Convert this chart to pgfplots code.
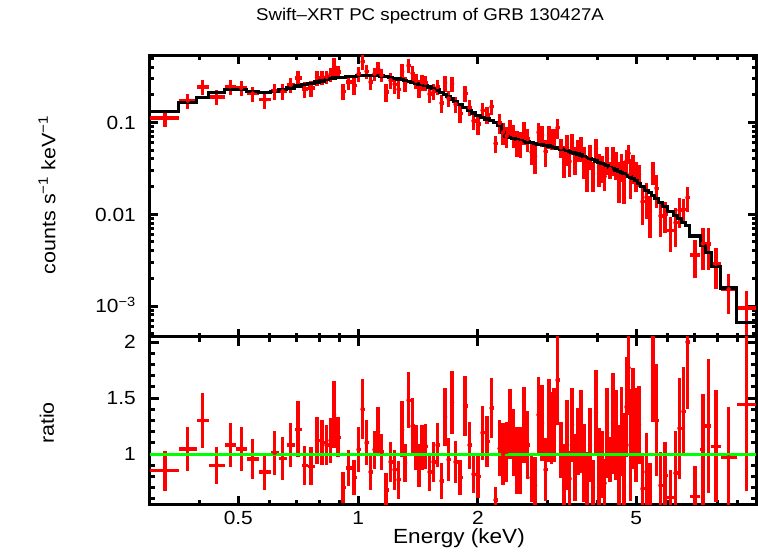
\documentclass[border=0pt]{standalone}
\usepackage{fontspec}
\setmainfont[FakeStretch=1.1]{Liberation Sans}
\usepackage{pgfplots}
\pgfplotsset{compat=1.18}
\usepackage{pgfplotstable}
\definecolor{xred}{RGB}{255,0,0}
\definecolor{xgreen}{RGB}{0,255,0}

% bin centre c, half width w, data y, error ey, ratio r, ratio error er
\pgfplotstableread{
c w y ey r er
0.327 0.027 0.1122 0.0238 0.85 0.18
0.3734 0.0194 0.1735 0.0332 1.045 0.20
0.4069 0.0141 0.2431 0.0458 1.30 0.245
0.4415 0.0205 0.189 0.0347 0.90 0.165
0.4772 0.0152 0.2473 0.0458 1.08 0.20
0.5085 0.0162 0.2393 0.0458 1.045 0.20
0.5435 0.0189 0.2063 0.0378 0.955 0.175
0.5825 0.0202 0.1764 0.0347 0.84 0.165
0.6171 0.0144 0.2212 0.0438 1.01 0.20
0.6464 0.0150 0.2179 0.0431 0.96 0.19
0.677 0.0157 0.2570 0.0476 1.08 0.20
0.7069 0.0142 0.305 0.0625 1.22 0.25
0.7339 0.0128 0.2322 0.0452 0.90 0.175
0.7621 0.0155 0.2367 0.0452 0.89 0.17
0.7889 0.0113 0.3091 0.058 1.12 0.21
0.812 0.0118 0.3113 0.0566 1.10 0.20
0.8335 0.0098 0.3154 0.0526 1.08 0.18
0.853 0.0098 0.336 0.060 1.12 0.20
0.8704 0.0076 0.4118 0.0915 1.35 0.30
0.8909 0.0129 0.3554 0.0556 1.15 0.18
0.917 0.0133 0.2177 0.0435 0.70 0.14
0.9467 0.0165 0.2756 0.0504 0.875 0.16
0.9772 0.0141 0.2528 0.0512 0.79 0.16
1.003 0.0117 0.338 0.065 1.04 0.20
1.0265 0.0119 0.4578 0.0883 1.40 0.27
1.0505 0.0122 0.3608 0.0656 1.10 0.20
1.0751 0.0124 0.2755 0.0525 0.84 0.16
1.1003 0.0128 0.3401 0.0556 1.04 0.17
1.1227 0.0097 0.39 0.0715 1.20 0.22
1.1457 0.0133 0.3274 0.0514 1.02 0.16
1.176 0.017 0.2149 0.0474 0.68 0.15
1.2069 0.014 0.2883 0.0558 0.93 0.18
1.2352 0.0143 0.2614 0.0547 0.86 0.18
1.2642 0.0147 0.2295 0.0507 0.77 0.17
1.2901 0.0112 0.3562 0.073 1.22 0.25
1.3127 0.0115 0.264 0.0488 0.92 0.17
1.3397 0.0155 0.4159 0.0703 1.48 0.25
1.371 0.0159 0.3438 0.0688 1.25 0.25
1.3989 0.0121 0.2841 0.0536 1.06 0.20
1.4233 0.0123 0.2367 0.05 0.90 0.19
1.4482 0.0127 0.2735 0.0516 1.06 0.20
1.478 0.0171 0.2696 0.0504 1.07 0.20
1.5126 0.0176 0.2041 0.0413 0.84 0.17
1.548 0.0179 0.2186 0.0423 0.93 0.18
1.5842 0.0184 0.2441 0.0452 1.08 0.20
1.6213 0.0187 0.1626 0.0342 0.76 0.16
1.6544 0.0145 0.27 0.0528 1.33 0.26
1.6884 0.0195 0.1824 0.0365 0.95 0.19
1.7229 0.015 0.2628 0.0504 1.46 0.28
1.7581 0.0203 0.1581 0.0323 0.93 0.19
1.8044 0.0261 0.1248 0.0253 0.79 0.16
1.8573 0.0268 0.2074 0.0392 1.43 0.27
1.9063 0.0222 0.1458 0.0284 1.08 0.21
1.951 0.0226 0.1041 0.0216 0.82 0.17
2.0026 0.0291 0.096 0.0228 0.80 0.19
2.0554 0.0238 0.1357 0.0274 1.19 0.24
2.1096 0.0305 0.121 0.0251 1.11 0.23
2.1653 0.0252 0.1481 0.0284 1.41 0.27
2.216 0.0256 0.059 0.012 0.59 0.12
2.2679 0.0263 0.0987 0.0235 1.05 0.25
2.3143 0.0201 0.078 0.0218 1.00 0.28
2.3616 0.0273 0.0714 0.0189 1.02 0.27
2.4099 0.0211 0.0864 0.0211 1.27 0.31
2.4593 0.0284 0.0732 0.02 1.10 0.30
2.5097 0.022 0.0611 0.0195 0.94 0.30
2.5612 0.0296 0.06 0.0191 0.94 0.30
2.6136 0.0229 0.0788 0.0213 1.26 0.34
2.6672 0.0308 0.0661 0.0184 1.08 0.30
2.7293 0.0314 0.0474 0.0132 0.79 0.22
2.7849 0.0243 0.0425 0.0148 0.72 0.25
2.8418 0.0327 0.0783 0.0197 1.35 0.34
2.8998 0.0253 0.0731 0.0194 1.28 0.34
2.9593 0.0342 0.0484 0.0158 0.86 0.28
3.0198 0.0264 0.0719 0.0205 1.30 0.37
3.0639 0.0178 0.067 0.0174 1.23 0.32
3.1086 0.0269 0.0677 0.0177 1.26 0.33
3.1722 0.0368 0.0875 0.0211 1.66 0.40
3.237 0.028 0.0535 0.0129 1.04 0.25
3.2938 0.0288 0.0397 0.0151 0.79 0.30
3.3516 0.029 0.0531 0.0197 1.08 0.40
3.4002 0.0196 0.0377 0.0121 0.78 0.25
3.4499 0.0302 0.0597 0.0156 1.26 0.33
3.5101 0.03 0.0408 0.0139 0.88 0.30
3.5709 0.0309 0.0504 0.0136 1.11 0.30
3.6336 0.0318 0.0532 0.0164 1.20 0.37
3.6974 0.032 0.0395 0.015 0.92 0.35
3.7619 0.0326 0.03 0.0125 0.72 0.30
3.8279 0.0335 0.0436 0.0133 1.08 0.33
3.8951 0.0337 0.0274 0.0098 0.70 0.25
3.9635 0.0347 0.0521 0.0144 1.37 0.38
4.0331 0.0349 0.0325 0.0129 0.88 0.35
4.1034 0.0355 0.0324 0.0107 0.91 0.30
4.163 0.0242 0.0258 0.0077 0.74 0.22
4.2238 0.0366 0.0402 0.0135 1.19 0.40
4.2975 0.0372 0.031 0.0065 0.95 0.20
4.3729 0.0383 0.0399 0.0141 1.27 0.45
4.4494 0.0382 0.0355 0.0121 1.17 0.40
4.5267 0.0392 0.0251 0.0117 0.86 0.40
4.5928 0.027 0.0341 0.0114 1.20 0.40
4.66 0.0403 0.0254 0.0124 0.92 0.45
4.7275 0.0272 0.0379 0.012 1.42 0.45
4.7822 0.0275 0.0462 0.011 1.77 0.42
4.8381 0.0284 0.0275 0.0128 1.08 0.50
4.9089 0.0424 0.0326 0.0111 1.32 0.45
4.9951 0.0438 0.027 0.0097 1.17 0.42
5.0827 0.0439 0.0272 0.0076 1.26 0.35
5.1864 0.0598 0.0137 0.006 0.69 0.30
5.3079 0.0617 0.0153 0.0064 0.84 0.35
5.4164 0.0469 0.0107 0.0052 0.62 0.30
5.5115 0.0483 0.0288 0.0081 1.79 0.50
5.6241 0.0644 0.0192 0.0074 1.30 0.50
5.7554 0.0669 0.0096 0.004 0.72 0.30
5.9076 0.0853 0.0099 0.0037 0.81 0.30
6.0987 0.1059 0.0066 0.0027 0.61 0.25
6.2775 0.0729 0.0081 0.0037 0.83 0.38
6.4244 0.074 0.0111 0.0041 1.23 0.45
6.5749 0.0765 0.0113 0.0033 1.38 0.40
6.729 0.0776 0.0152 0.0046 2.0 0.60
7.0288 0.2223 0.0036 0.0016 0.62 0.27
7.3573 0.1062 0.0048 0.0023 1.04 0.50
7.5955 0.132 0.00475 0.0023 1.25 0.60
7.9354 0.2079 0.00289 0.00135 1.07 0.50
8.5382 0.3949 0.00152 0.00071 0.97 0.45
9.4666 0.5334 0.00095 0.00051 1.44 0.77
}\spec

% model histogram: lower bin edge e, model value m
\pgfplotstableread{
e m
0.3 0.132
0.354 0.166
0.3928 0.187
0.4210 0.210
0.4620 0.229
0.4923 0.229
0.5246 0.216
0.5623 0.210
0.6027 0.219
0.6314 0.227
0.6613 0.238
0.6927 0.250
0.7211 0.258
0.7466 0.266
0.7776 0.276
0.8002 0.283
0.8237 0.292
0.8432 0.300
0.8628 0.305
0.8780 0.309
0.9037 0.311
0.9302 0.315
0.9631 0.320
0.9913 0.325
1.0146 0.327
1.0383 0.328
1.0627 0.328
1.0875 0.327
1.1130 0.325
1.1324 0.321
1.1590 0.316
1.1929 0.310
1.2209 0.304
1.2495 0.298
1.2789 0.292
1.3012 0.287
1.3242 0.281
1.3551 0.275
1.3868 0.268
1.4110 0.263
1.4355 0.258
1.4609 0.252
1.4950 0.243
1.5301 0.235
1.5658 0.226
1.6026 0.214
1.6399 0.203
1.6689 0.192
1.7079 0.180
1.7378 0.170
1.7783 0.158
1.8305 0.145
1.8841 0.135
1.9284 0.127
1.9735 0.120
2.0316 0.114
2.0791 0.109
2.1401 0.105
2.1904 0.100
2.2416 0.094
2.2942 0.078
2.3343 0.070
2.3888 0.068
2.4309 0.0665
2.4877 0.065
2.5316 0.0638
2.5907 0.0625
2.6364 0.0612
2.6979 0.060
2.7606 0.059
2.8091 0.058
2.8745 0.0571
2.9251 0.0563
2.9934 0.0553
3.0461 0.0545
3.0817 0.0537
3.1354 0.0527
3.2090 0.0514
3.2650 0.0503
3.3226 0.0492
3.3806 0.0483
3.4197 0.0474
3.4801 0.0464
3.5400 0.0454
3.6018 0.0443
3.6654 0.0429
3.7293 0.0416
3.7944 0.0404
3.8614 0.0392
3.9288 0.0380
3.9982 0.0369
4.0679 0.0356
4.1388 0.0348
4.1872 0.0338
4.2603 0.0326
4.3346 0.0314
4.4112 0.0303
4.4875 0.0292
4.5658 0.0284
4.6197 0.0276
4.7003 0.0267
4.7547 0.0261
4.8097 0.0255
4.8665 0.0247
4.9513 0.0231
5.0388 0.0216
5.1266 0.0199
5.2462 0.0182
5.3695 0.0173
5.4632 0.0161
5.5597 0.0148
5.6885 0.0133
5.8223 0.0122
5.9928 0.0108
6.2046 0.0097
6.3504 0.0090
6.4984 0.0082
6.6514 0.0076
6.8065 0.0058
7.2511 0.0046
7.4635 0.0038
7.7275 0.0027
8.1433 0.00157
8.9331 0.00066
10.0 0.00066
}\model

\begin{document}
\begin{tikzpicture}
\path[use as bounding box] (0,0) rectangle (758pt,556pt);

\begin{axis}[at={(150pt,219pt)}, anchor=south west,
  scale only axis, width=606pt, height=281pt,
  xmode=log, ymode=log,
  xmin=0.3, xmax=10, ymin=4.6e-4, ymax=0.53,
  axis line style={line width=3pt},
  every tick/.style={black, line width=3pt},
  major tick length=8pt, minor tick length=4.5pt,
  tick align=inside, xtick pos=both, ytick pos=both,
  xtick={0.5,1,2,5},
  minor xtick={0.4,0.6,0.7,0.8,0.9,3,4,6,7,8,9},
  xticklabels={},
  ytick={0.001,0.01,0.1},
  yticklabels={10\textsuperscript{−3},0.01,0.1},
  minor ytick={5e-4,6e-4,7e-4,8e-4,9e-4,0.002,0.003,0.004,0.005,0.006,0.007,0.008,0.009,0.02,0.03,0.04,0.05,0.06,0.07,0.08,0.09,0.2,0.3,0.4,0.5},
  tick label style={font=\fontsize{19}{22}\selectfont},
  yticklabel style={anchor=base east, inner sep=0pt, xshift=-14pt, yshift=-6.8pt}]
\addplot[xred, only marks, mark=none,
  error bars/.cd, x dir=both, x explicit, y dir=both, y explicit,
  error mark=none, error bar style={xred, line width=3.3pt}]
  table[x=c, y=y, x error=w, y error=ey] {\spec};
\addplot[black, line width=3.2pt, const plot mark left] table[x=e, y=m] {\model};
\end{axis}

\begin{axis}[at={(150pt,51pt)}, anchor=south west,
  scale only axis, width=606pt, height=168pt,
  xmode=log,
  xmin=0.3, xmax=10, ymin=0.545, ymax=2.045,
  axis line style={line width=3pt},
  every tick/.style={black, line width=3pt},
  major tick length=9pt, minor tick length=5pt,
  tick align=inside, xtick pos=both, ytick pos=both,
  xtick={0.5,1,2,5},
  minor xtick={0.4,0.6,0.7,0.8,0.9,3,4,6,7,8,9},
  xticklabels={0.5,1,2,5},
  ytick={1,1.5,2}, yticklabels={1,1.5,2},
  minor ytick={0.6,0.7,0.8,0.9,1.1,1.2,1.3,1.4,1.6,1.7,1.8,1.9},
  tick label style={font=\fontsize{19}{22}\selectfont},
  yticklabel style={anchor=base east, inner sep=0pt, xshift=-14pt, yshift=-6.8pt},
  xticklabel style={anchor=north, inner sep=0pt, yshift=-6pt}]
\addplot[xred, only marks, mark=none,
  error bars/.cd, x dir=both, x explicit, y dir=both, y explicit,
  error mark=none, error bar style={xred, line width=3.3pt}]
  table[x=c, y=r, x error=w, y error=er] {\spec};
\addplot[xgreen, line width=3pt] coordinates {(0.3,1) (10,1)};
\end{axis}

\node[anchor=base, font=\fontsize{17}{20}\selectfont] at (430pt,535.5pt) {Swift–XRT PC spectrum of GRB 130427A};
\node[anchor=base, font=\fontsize{20.5}{24}\selectfont] at (459pt,12pt) {Energy (keV)};
\node[rotate=90, font=\fontsize{19.5}{23}\selectfont] at (47pt,361pt) {counts s\textsuperscript{−1} keV\textsuperscript{−1}};
\node[rotate=90, font=\fontsize{19.5}{23}\selectfont] at (47pt,133pt) {ratio};
\end{tikzpicture}
\end{document}
